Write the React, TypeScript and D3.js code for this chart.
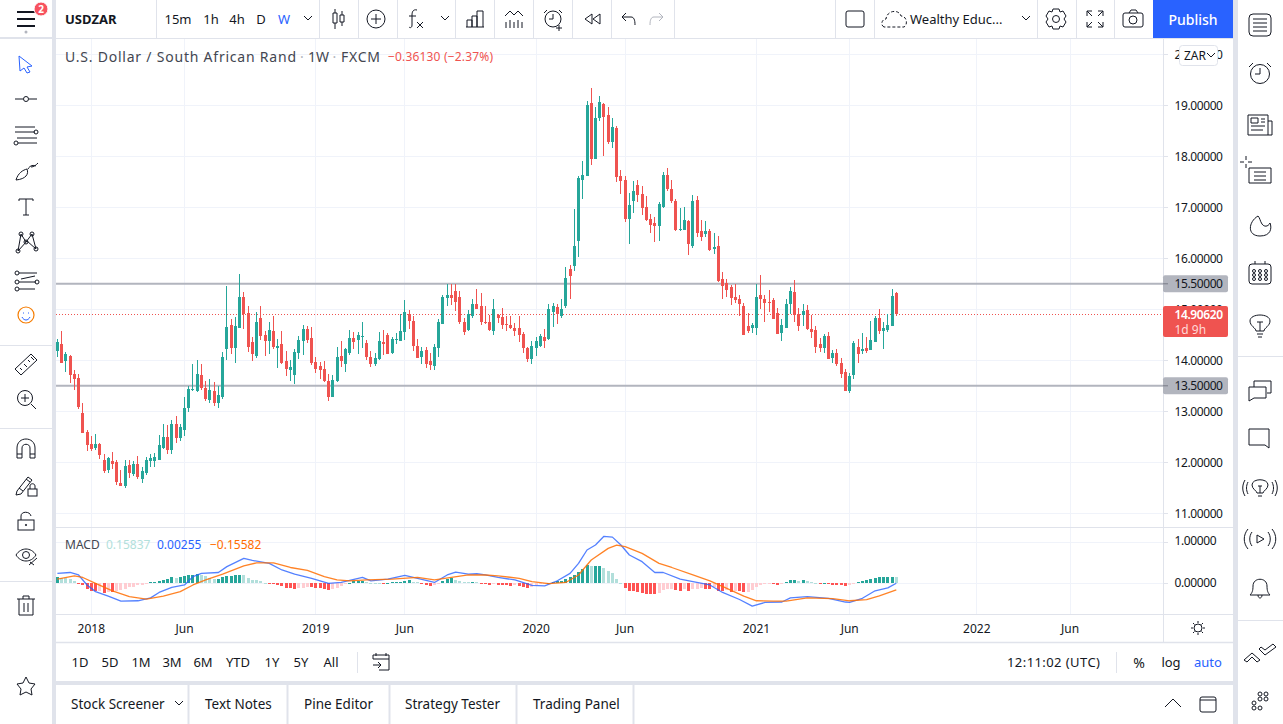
import React from "react";
import * as d3 from "d3";

const opens = [14.18,14.31,13.98,14.08,13.73,13.65,12.96,12.59,12.35,12.29,12.35,12.04,11.84,12.02,12.0,11.59,11.53,11.94,11.78,11.96,11.67,11.80,12.02,12.02,12.04,12.29,12.49,12.24,12.76,12.47,12.63,13.06,13.41,13.39,13.71,13.45,13.22,13.39,13.16,13.29,14.22,14.69,14.24,14.63,15.24,14.92,14.35,14.08,14.82,14.49,14.37,14.57,14.24,14.31,13.98,13.80,13.71,14.14,14.37,14.61,14.43,13.96,13.88,13.82,13.59,13.29,13.59,14.08,13.92,14.14,14.43,14.39,14.45,14.33,14.06,13.92,14.02,14.35,14.49,14.14,14.39,14.37,14.55,14.90,14.78,14.29,14.06,14.20,13.98,13.88,14.24,14.71,15.22,15.29,15.35,15.24,14.76,14.59,14.86,15.10,15.06,14.76,14.76,14.57,14.88,14.84,14.71,14.69,14.63,14.63,14.51,14.25,14.02,14.25,14.29,14.45,14.41,14.94,15.04,14.86,15.06,15.80,15.84,16.33,17.53,17.61,19.04,17.94,18.75,19.02,18.80,18.29,18.55,17.61,17.53,16.78,17.12,17.43,17.27,17.0,16.78,16.69,16.63,17.0,17.63,17.35,17.12,16.55,16.55,16.73,16.25,17.14,16.53,16.47,16.53,16.18,16.25,15.59,15.51,15.43,15.24,15.20,15.06,14.67,14.63,14.63,15.29,15.20,15.14,15.18,14.92,14.53,14.63,15.10,15.33,14.90,14.88,14.98,14.61,14.59,14.31,14.24,14.47,14.04,14.14,13.94,13.78,13.39,13.71,14.27,14.18,14.25,14.20,14.35,14.82,14.57,14.59,14.67,15.31];
const highs = [14.41,14.57,14.16,14.10,13.80,13.73,13.16,12.63,12.51,12.55,12.37,12.16,12.10,12.20,12.04,11.84,12.04,12.04,12.02,12.12,11.90,12.10,12.16,12.18,12.53,12.75,12.73,12.82,12.90,12.76,13.29,13.49,13.92,14.0,13.92,13.59,13.63,13.57,13.49,14.16,15.45,14.80,14.84,15.69,15.33,15.06,14.45,14.94,15.06,14.57,14.76,14.86,14.41,14.57,14.18,14.0,14.22,14.47,14.69,14.67,14.65,14.06,13.96,13.98,13.73,13.71,14.27,14.37,14.24,14.59,14.55,14.55,14.75,14.39,14.18,14.14,14.55,14.59,14.53,14.45,14.53,14.90,15.18,14.98,14.86,14.41,14.27,14.27,14.14,14.31,14.80,15.29,15.49,15.49,15.49,15.35,14.82,14.98,15.20,15.39,15.31,15.06,14.88,15.20,14.90,15.02,14.86,14.86,14.73,14.86,14.55,14.27,14.37,14.45,14.51,14.61,15.10,15.12,15.10,15.20,15.82,15.86,16.96,17.61,17.90,19.08,19.33,18.96,19.18,19.04,18.96,18.75,18.59,17.73,17.61,17.29,17.51,17.53,17.41,17.22,16.86,16.80,17.10,17.69,17.78,17.53,17.16,16.98,17.0,16.75,17.25,17.22,16.75,16.73,16.57,16.49,16.43,15.73,15.59,15.47,15.49,15.29,15.12,14.92,14.73,15.49,15.67,15.29,15.37,15.22,15.02,14.80,15.20,15.43,15.57,15.02,15.10,15.08,14.88,14.67,14.43,14.51,14.55,14.20,14.22,14.04,13.82,13.76,14.37,14.41,14.53,14.45,14.78,14.86,15.0,14.75,14.90,15.39,15.33];
const lows = [14.06,13.94,13.78,13.55,13.41,13.04,12.57,12.22,12.22,12.24,12.06,11.80,11.80,11.86,11.55,11.53,11.49,11.69,11.73,11.67,11.59,11.76,11.90,11.90,12.04,12.27,12.16,12.16,12.37,12.41,12.51,12.98,13.39,13.37,13.41,13.20,13.16,13.10,13.06,13.24,14.0,14.12,13.94,14.63,14.61,14.16,13.98,14.04,14.39,14.08,14.12,14.22,13.84,13.92,13.69,13.59,13.53,14.02,14.10,14.33,13.90,13.75,13.63,13.57,13.20,13.29,13.57,13.86,13.78,14.10,14.22,14.12,14.25,14.0,13.86,13.88,14.0,14.10,14.12,14.12,14.31,14.37,14.39,14.61,14.18,14.04,13.92,13.84,13.80,13.80,14.06,14.71,15.06,15.08,14.96,14.71,14.49,14.57,14.82,15.0,14.69,14.71,14.57,14.49,14.73,14.61,14.57,14.61,14.47,14.35,14.14,13.96,13.92,14.08,14.27,14.25,14.39,14.65,14.71,14.82,15.02,15.20,15.75,16.02,17.16,17.61,17.82,17.94,18.69,18.0,18.25,18.16,17.49,17.27,16.71,16.29,16.88,17.10,16.84,16.73,16.49,16.31,16.33,16.98,17.31,17.08,16.53,16.53,16.55,16.06,16.20,16.41,16.33,16.41,16.14,16.08,15.53,15.20,15.25,15.08,15.12,14.86,14.49,14.53,14.53,14.49,15.0,14.75,14.94,14.80,14.51,14.37,14.63,14.90,14.75,14.57,14.67,14.59,14.43,14.14,14.16,14.14,14.02,13.94,13.88,13.65,13.39,13.35,13.63,13.94,14.12,14.14,14.20,14.35,14.51,14.22,14.55,14.67,14.86];
const closes = [14.35,13.94,14.12,13.71,13.63,13.08,12.57,12.33,12.27,12.35,12.14,11.82,12.08,11.96,11.61,11.53,11.92,11.80,11.96,11.71,11.82,12.04,12.08,12.10,12.33,12.49,12.25,12.76,12.47,12.69,13.06,13.43,13.43,13.73,13.45,13.24,13.41,13.16,13.31,14.06,14.65,14.24,14.67,15.24,14.90,14.27,14.12,14.76,14.47,14.37,14.59,14.27,14.29,13.94,13.82,13.86,14.16,14.39,14.61,14.39,13.94,13.82,13.80,13.59,13.29,13.61,14.06,13.98,14.22,14.43,14.35,14.49,14.47,14.06,13.92,14.04,14.37,14.31,14.12,14.41,14.41,14.57,14.94,14.78,14.29,14.04,14.18,13.92,13.90,14.27,14.76,15.25,15.28,15.22,15.14,14.76,14.55,14.90,15.10,15.0,14.75,14.75,14.59,15.0,14.82,14.69,14.69,14.63,14.57,14.49,14.25,14.02,14.29,14.37,14.47,14.37,15.0,15.06,14.90,15.0,15.61,15.65,16.24,17.57,17.63,19.0,17.94,18.76,19.06,18.78,18.29,18.57,17.59,17.51,16.78,17.04,17.31,17.25,16.98,16.75,16.65,16.63,17.06,17.63,17.35,17.12,16.55,16.57,16.75,16.29,17.12,16.49,16.41,16.53,16.16,16.22,15.55,15.45,15.37,15.22,15.18,15.10,14.49,14.57,14.69,15.25,15.20,15.12,15.12,14.80,14.51,14.69,15.10,15.35,14.88,14.67,14.96,14.61,14.55,14.27,14.24,14.47,14.02,14.14,13.92,13.73,13.39,13.69,14.33,14.12,14.22,14.18,14.39,14.82,14.57,14.63,14.69,15.27,14.9062];

const histogram = [0.144,0.128,0.12,0.104,0.064,-0.024,-0.048,-0.144,-0.176,-0.192,-0.176,-0.224,-0.2,-0.2,-0.192,-0.16,-0.144,-0.096,-0.08,-0.048,-0.032,-0.024,0.024,0.04,0.064,0.088,0.096,0.144,0.136,0.144,0.176,0.192,0.2,0.224,0.2,0.176,0.128,0.104,0.104,0.144,0.176,0.184,0.192,0.2,0.192,0.128,0.08,0.072,0.048,0.016,-0.024,-0.024,-0.04,-0.064,-0.112,-0.12,-0.144,-0.12,-0.104,-0.08,-0.096,-0.112,-0.12,-0.136,-0.16,-0.144,-0.112,-0.064,-0.024,0.008,0.048,0.064,0.064,0.024,0.016,0.008,0,-0.016,0.016,0.024,0.032,0.04,0.064,0.08,0.032,0.024,-0.016,-0.032,-0.064,-0.048,-0.008,0.064,0.104,0.12,0.072,0.056,0.032,0.024,0.032,0.024,-0.016,-0.024,-0.032,-0.008,-0.032,-0.032,-0.048,-0.056,-0.048,-0.056,-0.08,-0.104,-0.096,-0.04,-0.024,-0.016,0.008,0.04,0.056,0.064,0.112,0.144,0.192,0.28,0.344,0.44,0.416,0.424,0.424,0.376,0.304,0.24,0.112,0.016,-0.112,-0.176,-0.192,-0.2,-0.24,-0.256,-0.256,-0.256,-0.224,-0.16,-0.144,-0.136,-0.16,-0.176,-0.144,-0.176,-0.144,-0.136,-0.12,-0.144,-0.144,-0.096,-0.176,-0.176,-0.16,-0.2,-0.176,-0.184,-0.208,-0.2,-0.16,-0.096,-0.048,-0.024,-0.008,-0.008,-0.032,-0.008,0.032,0.08,0.08,0.056,0.08,0.048,0.024,0.008,-0.008,0.008,-0.024,-0.032,-0.032,-0.04,-0.072,-0.04,-0.008,0.032,0.056,0.072,0.096,0.12,0.144,0.144,0.144,0.16,0.158];

const macdBars = [1,4,6,8,10,13,16,20,23,25,28,31,33,35,39,41,45,47,51,54,57,61,65,68,72,73,75,79,83,86,90,93,95,98,100,102,105,109,113,116,119,122,124,126,128,130,132,134,136,139,142,144,148,151,155,158,162,165,168,172,174,178,183,187,188,191,194,197,199];
const macdValues = [0.24,0.26,0.2,-0.04,-0.2,-0.31,-0.43,-0.42,-0.35,-0.22,-0.1,-0.04,0.16,0.24,0.26,0.4,0.6,0.55,0.48,0.32,0.22,0.12,0,0.02,0.12,0.14,0.06,0.1,0.19,0.12,0.02,0.2,0.27,0.22,0.23,0.2,0.14,0.08,-0.05,-0.06,0.06,0.24,0.48,0.8,0.92,1.13,1.11,0.92,0.68,0.52,0.26,0.26,0.1,0.04,-0.04,-0.22,-0.39,-0.55,-0.46,-0.45,-0.35,-0.32,-0.36,-0.45,-0.46,-0.36,-0.18,-0.11,0.00255];
const signalBars = [1,5,7,10,14,18,22,26,30,33,36,40,45,48,52,56,60,64,67,70,74,80,86,90,94,98,102,105,110,113,117,121,124,127,131,133,135,139,143,146,151,155,159,163,166,170,173,178,184,188,192,195,199];
const signalValues = [0.1,0.18,0.14,0,-0.18,-0.32,-0.38,-0.31,-0.2,-0.04,0.08,0.22,0.42,0.49,0.49,0.38,0.31,0.16,0.08,0.06,0.08,0.1,0.14,0.08,0.14,0.2,0.2,0.18,0.12,0.04,-0.01,0.02,0.2,0.56,0.84,0.92,0.88,0.72,0.48,0.38,0.2,0.06,-0.12,-0.31,-0.42,-0.43,-0.43,-0.35,-0.37,-0.42,-0.39,-0.3,-0.1558];

const priceTicks = [11,12,13,14,15,16,17,18,19,20];
const macdTicks = [0,1];
const timeTickBars = [9,31,62,83,114,135,166,188,218,240];
const timeTickLabels = ["2018","Jun","2019","Jun","2020","Jun","2021","Jun","2022","Jun"];
const levels = [15.5,13.5];
const lastPrice = 14.9062;

const intervals: [string,number,string][] = [["15m",178,"#131722"],["1h",211,"#131722"],["4h",237,"#131722"],["D",261,"#131722"],["W",284,"#2962FF"]];
const ranges: [string,number][] = [["1D",80],["5D",110],["1M",141],["3M",172],["6M",203],["YTD",238],["1Y",272],["5Y",301],["All",331]];
const tabs: [string,number][] = [["Stock Screener",71],["Text Notes",205],["Pine Editor",304],["Strategy Tester",405],["Trading Panel",533]];

const W = 1283, H = 724;
const FONT = "'Noto Sans', sans-serif";
const INK = "#131722";
const LEG = "#434651";
const UP = "#26A69A", DOWN = "#EF5350";
const GRID = "#F0F3FA";
const BORDER = "#E0E3EB";

const x = d3.scaleLinear().domain([1,199]).range([57.4,896.3]);
const y = d3.scaleLinear().domain([14,19]).range([360.3,105.3]);
const ym = d3.scaleLinear().domain([0,1]).range([583.3,541.7]);
const cx = (b:number)=>Math.round(x(b)-0.5);

const macdLine = d3.line<number>().x((_,i)=>x(macdBars[i])).y(d=>ym(d));
const signalLine = d3.line<number>().x((_,i)=>x(signalBars[i])).y(d=>ym(d));

function histColor(i:number){
  const v=histogram[i], p=i>0?histogram[i-1]:v;
  if(v>=0) return v>=p?"#26A69A":"#B2DFDB";
  return v<=p?"#FF5252":"#FFCDD2";
}

const T=(p:any)=>{const {children,...r}=p;return <text fontFamily={FONT} fontSize={13} fill={INK} dominantBaseline="central" {...r}>{children}</text>;};
const I=({at,children,c=INK}:{at:[number,number],children:any,c?:string})=><g transform={`translate(${at[0]},${at[1]})`} fill="none" stroke={c} strokeWidth={1}>{children}</g>;
const Chevron=({at}:{at:[number,number]})=><I at={at}><path d="M-4 -2 L0 2 L4 -2"/></I>;

export default function App(){
  return (
  <svg width={W} height={H} viewBox={`0 0 ${W} ${H}`} style={{position:"fixed",left:0,top:0,display:"block"}}>
    <rect width={W} height={H} fill={BORDER}/>
    <rect x={0} y={0} width={52} height={37} fill="#fff"/>
    <rect x={0} y={39} width={52} height={685} fill="#fff"/>
    <rect x={56} y={0} width={1177} height={38} fill="#fff"/>
    <rect x={56} y={39} width={1177} height={642} fill="#fff"/>
    <rect x={56} y={685} width={1177} height={39} fill="#fff"/>
    <rect x={1238} y={0} width={45} height={724} fill="#fff"/>

    {/* grid */}
    <g stroke={GRID}>
      {priceTicks.map(t=><line key={t} x1={56} x2={1163} y1={Math.round(y(t))+.5} y2={Math.round(y(t))+.5}/>)}
      {macdTicks.map(t=><line key={t} x1={56} x2={1163} y1={Math.round(ym(t))+.5} y2={Math.round(ym(t))+.5}/>)}
      {timeTickBars.map(b=><line key={b} x1={cx(b)+.5} x2={cx(b)+.5} y1={39} y2={614}/>)}
    </g>

    {/* levels */}
    {levels.map(l=><line key={l} x1={56} x2={1163} y1={y(l)} y2={y(l)} stroke="#B2B5BE" strokeWidth={2}/>)}
    <line x1={56} x2={1163} y1={314.5} y2={314.5} stroke={DOWN} strokeWidth={1} strokeDasharray="1 2"/>

    {/* candles */}
    <clipPath id="plot"><rect x={56} y={39} width={1107} height={575}/></clipPath>
    <g clipPath="url(#plot)">
      {closes.map((c,i)=>{
        const b=i+1, col=c>=opens[i]?UP:DOWN, px=cx(b);
        const top=Math.round(y(Math.max(opens[i],c))), bot=Math.round(y(Math.min(opens[i],c)));
        return <g key={b} fill={col}>
          <rect x={px} y={Math.round(y(highs[i]))} width={1} height={Math.max(1,Math.round(y(lows[i]))-Math.round(y(highs[i])))}/>
          <rect x={px-1} y={top} width={3} height={Math.max(1,bot-top)}/>
        </g>;
      })}
      {histogram.map((v,i)=>{
        const z=Math.round(ym(0)), t=Math.round(ym(v));
        return <rect key={i} x={cx(i+1)-1} y={Math.min(z,t)} width={3} height={Math.max(1,Math.abs(z-t))} fill={histColor(i)}/>;
      })}
      <path d={macdLine(macdValues)!} fill="none" stroke="#2962FF" strokeOpacity={0.8} strokeWidth={1.3} strokeLinejoin="round"/>
      <path d={signalLine(signalValues)!} fill="none" stroke="#FF6D00" strokeOpacity={0.85} strokeWidth={1.3} strokeLinejoin="round"/>
    </g>

    {/* panes borders */}
    <line x1={56} x2={1233} y1={527.5} y2={527.5} stroke={BORDER}/>
    <line x1={56} x2={1233} y1={614.5} y2={614.5} stroke={BORDER}/>
    <line x1={56} x2={1233} y1={642.5} y2={642.5} stroke={BORDER} strokeWidth={1.5}/>
    <line x1={1163.5} x2={1163.5} y1={39} y2={642} stroke={BORDER}/>

    {/* axis ticks */}
    <g fontFamily={FONT} fontSize={12}>
      {priceTicks.map(t=><g key={t}>
        <line x1={1164} x2={1168} y1={Math.round(y(t))+.5} y2={Math.round(y(t))+.5} stroke={BORDER}/>
        <T x={1174.5} y={y(t)} fontSize={12} letterSpacing={-0.4}>{t.toFixed(5)}</T>
      </g>)}
      {macdTicks.map(t=><g key={t}>
        <line x1={1164} x2={1168} y1={Math.round(ym(t))+.5} y2={Math.round(ym(t))+.5} stroke={BORDER}/>
        <T x={1174.5} y={ym(t)-1} fontSize={12} letterSpacing={-0.4}>{t.toFixed(5)}</T>
      </g>)}
      {timeTickBars.map((b,i)=><T key={b} x={x(b)} y={628} fontSize={12} textAnchor="middle">{timeTickLabels[i]}</T>)}
    </g>

    {/* price tags */}
    {levels.map(l=><g key={l}>
      <rect x={1163} y={y(l)-8.5} width={65} height={17} rx={2} fill="#B2B5BE"/>
      <line x1={1163} x2={1168} y1={y(l)} y2={y(l)} stroke="#787B86"/>
      <T x={1174.5} y={y(l)} fontSize={12} letterSpacing={-0.4}>{l.toFixed(5)}</T>
    </g>)}
    <rect x={1163} y={306} width={65} height={31} rx={2} fill={DOWN}/>
    <T x={1174.5} y={314.5} fontSize={12} fill="#fff" fontWeight={600} letterSpacing={-0.4}>{lastPrice.toFixed(5)}</T>
    <T x={1174.5} y={329} fontSize={12} fill="#FFD9D8">1d 9h</T>

    {/* legends */}
    <T x={65} y={56} fontSize={14} fill={LEG} textLength={231}>U.S. Dollar / South African Rand</T>
    <T x={300} y={56} fontSize={14} fill="#B2B5BE">·</T>
    <T x={308} y={56} fontSize={14} fill={LEG}>1W</T>
    <T x={332.5} y={56} fontSize={14} fill="#B2B5BE">·</T>
    <T x={341} y={56} fontSize={14} fill={LEG} textLength={39}>FXCM</T>
    <T x={388} y={56.5} fontSize={12} fill={DOWN} textLength={105}>−0.36130 (−2.37%)</T>
    <T x={65} y={544.5} fontSize={12} fill={LEG}>MACD</T>
    <T x={106} y={544.5} fontSize={12} fill="#B2DFDB">0.15837</T>
    <T x={157} y={544.5} fontSize={12} fill="#2962FF">0.00255</T>
    <T x={210} y={544.5} fontSize={12} fill="#FF6D00">−0.15582</T>

    {/* ZAR button */}
    <rect x={1179.5} y={45.5} width={38} height={20} rx={3} fill="#fff" stroke={BORDER}/>
    <T x={1184} y={55} fontSize={12}>ZAR</T>
    <Chevron at={[1211,55]}/>

    {/* top bar */}
    <g stroke={BORDER}>{[156,319,358,397,455,494,533,572,611,674,835,874,1037,1076,1114].map(d=><line key={d} x1={d+.5} x2={d+.5} y1={0} y2={38}/>)}</g>
    <I at={[26,19]} c="#131722"><path d="M-9 -7 H9 M-9 0 H9 M-9 7 H9" strokeWidth={2}/></I>
    <circle cx={41} cy={9} r={7} fill="#F7525F" stroke="#fff"/>
    <T x={41} y={9} fontSize={10} fill="#fff" textAnchor="middle" fontWeight={700}>2</T>
    <circle cx={26} cy={32} r={1.5} fill="#B2B5BE"/>
    <T x={65} y={19} fontSize={13} fontWeight={700}>USDZAR</T>
    {intervals.map(([t,xx,c])=><T key={t} x={xx} y={19} fontSize={13} fill={c} textAnchor="middle">{t}</T>)}
    <Chevron at={[308,18]}/>
    <I at={[338,19]}><path d="M-5 -6 h4 v10 h-4 z M-3 -10 v4 M-3 4 v6 M2 -4 h4 v7 h-4 z M4 -8 v4 M4 3 v4"/></I>
    <I at={[376,19]}><circle r={9}/><path d="M-5 0 H5 M0 -5 V5"/></I>
    <I at={[415,19]}><path d="M2 -9 C-2 -10 -3 -7 -3 -4 L-3 6 C-3 9 -5 9 -6 8 M-6 -3 H1 M2 3 L8 9 M8 3 L2 9"/></I>
    <Chevron at={[445,18]}/>
    <I at={[475,19]}><path d="M-9 8 H9 M-8 8 V1 H-3 V8 M-3 8 V-3 H2 V8 M2 8 V-8 H8 V8"/></I>
    <I at={[514,19]}><path d="M-9 -3 L-4 -8 L0 -4 L4 -8 L9 -3 M-8 9 V3 M-4 9 V1 M0 9 V3 M4 9 V1 M8 9 V3"/></I>
    <I at={[553,19]}><circle r={8}/><path d="M0 -5 V0 H-4 M-9 -6 L-6 -9 M9 -6 L6 -9 M6 6 V12 M3 9 H9"/></I>
    <I at={[592,19]}><path d="M0 -5 L-7 0 L0 5 Z M8 -5 L1 0 L8 5 Z"/></I>
    <I at={[628,19]}><path d="M-6 -2 L-2 -6 M-6 -2 L-2 2 M-6 -2 H3 C6 -2 7 1 7 6"/></I>
    <I at={[657,19]} c="#B2B5BE"><path d="M6 -2 L2 -6 M6 -2 L2 2 M6 -2 H-3 C-6 -2 -7 1 -7 6"/></I>
    <I at={[855,19]}><rect x={-9} y={-8} width={18} height={16} rx={2}/></I>
    <I at={[895,19]}><path d="M-11 8 C-15 6 -13 0 -9 0 C-8 -9 4 -10 6 -3 C12 -3 13 6 9 8 H-11" strokeDasharray="3 2"/></I>
    <T x={910} y={19} fontSize={13}>Wealthy Educ...</T>
    <Chevron at={[1026,18]}/>
    <I at={[1056,19]}><circle r={3.5}/><path d="M-3 -10 H3 L4 -7 L7 -8 L10 -3 L8 0 L10 3 L7 8 L4 7 L3 10 H-3 L-4 7 L-7 8 L-10 3 L-8 0 L-10 -3 L-7 -8 L-4 -7 Z"/></I>
    <I at={[1095,19]}><path d="M-8 -3 V-8 H-3 M-8 -8 L-3 -3 M8 -3 V-8 H3 M8 -8 L3 -3 M-8 3 V8 H-3 M-8 8 L-3 3 M8 3 V8 H3 M8 8 L3 3"/></I>
    <I at={[1133,19]}><rect x={-10} y={-6} width={20} height={14} rx={2}/><circle cy={1} r={4}/><path d="M-4 -6 L-2 -9 H3 L5 -6"/></I>
    <rect x={1153} y={0} width={80} height={38} fill="#2962FF"/>
    <T x={1193} y={19} fontSize={14} fill="#fff" textAnchor="middle" fontWeight={500}>Publish</T>

    {/* left toolbar */}
    <g stroke={BORDER}>
      <line x1={0} x2={52} y1={345.5} y2={345.5}/>
      <line x1={0} x2={52} y1={428.5} y2={428.5}/>
      <line x1={0} x2={52} y1={581.5} y2={581.5}/>
    </g>
    <I at={[25,64]} c="#2962FF"><path d="M-6 -8 L7 2 L2 3 L5 8 L2 9 L-1 4 L-5 7 Z"/></I>
    <I at={[26,99]}><path d="M-11 0 H-3 M3 0 H11"/><circle r={2.5}/></I>
    <I at={[26,135]}><path d="M-11 -8 H9 M-11 -3 H9 M-9 3 H11 M-8 8 H11"/><circle cx={10} cy={-3} r={2}/><circle cx={-10} cy={8} r={2}/></I>
    <I at={[26,172]}><path d="M-10 8 C-8 1 -3 -2 1 -3 C3 2 0 7 -10 8 M2 -3 C4 -7 8 -7 10 -6 M5 -5 C8 -5 10 -7 12 -9"/></I>
    <I at={[26,207]}><path d="M-7 -6 V-8 H7 V-6 M0 -8 V8 M-3 8 H3"/></I>
    <I at={[26,242]}><path d="M-8 9 L-5 -8 L0 0 L6 -8 L10 7 L1 -1 L-8 9"/><circle cx={-5} cy={-8} r={2}/><circle cx={6} cy={-8} r={2}/><circle cx={0} cy={0} r={2}/><circle cx={-8} cy={9} r={2}/><circle cx={10} cy={7} r={2}/></I>
    <I at={[26,281]}><path d="M-7 -8 H11 M-7 8 H9 M-7 1 H10 M-5 -2 L9 -5" /><circle cx={-9} cy={-8} r={2}/><circle cx={-9} cy={1} r={2}/><circle cx={-9} cy={8} r={2}/><circle cx={11} cy={1} r={2}/></I>
    <I at={[26,315]} c="#131722"><circle r={8} stroke="#F57C00" strokeWidth={1.2}/><path d="M-4 2 C-2 6 2 6 4 2 M-3 -2 h1 M2 -2 h1" stroke="#2962FF"/></I>
    <I at={[26,364]}><path d="M-11 5 L5 -10 L11 -4 L-5 11 Z M-6 4 L-4 6 M-2 0 L1 3 M2 -4 L4 -2 M5 -7 L8 -4"/></I>
    <I at={[26,399]}><circle cx={-1} cy={-1} r={7.5}/><path d="M-5 -1 H3 M-1 -5 V3 M5 5 L10 10"/></I>
    <I at={[26,449]}><path d="M-9 9 V-1 C-9 -13 9 -13 9 -1 V9 H4 V-1 C4 -6 -4 -6 -4 -1 V9 Z M-9 5 H-4 M4 5 H9"/></I>
    <I at={[26,485]}><path d="M-9 6 L2 -8 L6 -5 L-5 9 L-10 10 Z M-7 3 L-3 6 M0 -6 L4 -3"/><rect x={2} y={4} width={9} height={7}/><path d="M4 4 V1 C4 -2 9 -2 9 1 V4"/></I>
    <I at={[26,521]}><rect x={-8} y={-1} width={16} height={10}/><path d="M-5 -1 V-5 C-5 -10 4 -10 5 -5"/><circle cy={4} r={0.7}/></I>
    <I at={[26,556]}><path d="M-10 -1 C-5 -9 5 -9 10 -1 C5 7 -5 7 -10 -1 Z"/><circle cy={-1} r={3.5}/><path d="M3 9 L11 2 M4 6 L8 9"/></I>
    <I at={[26,606]}><path d="M-9 -7 H9 M-7 -7 V9 H7 V-7 M-3 -7 V-10 H3 V-7 M-2 -3 V6 M2 -3 V6"/></I>
    <I at={[26,686]}><path d="M0 -9 L3 -3 L9 -2 L5 3 L6 9 L0 6 L-6 9 L-5 3 L-9 -2 L-3 -3 Z"/></I>

    {/* right toolbar */}
    <g stroke={BORDER}>
      <line x1={1238} x2={1283} y1={356.5} y2={356.5}/>
      <line x1={1238} x2={1283} y1={620.5} y2={620.5}/>
    </g>
    <I at={[1260,25]}><rect x={-11} y={-11} width={22} height={22} rx={4}/><path d="M-7 -6 H7 M-7 -2 H7 M-7 2 H7 M-7 6 H7"/></I>
    <I at={[1260,74]}><circle r={9.5}/><path d="M0 -6 V0 H-5 M-11 -7 L-7 -11 M11 -7 L7 -11"/></I>
    <I at={[1260,125]}><path d="M-12 -10 H8 V10 H-12 Z M8 -4 H12 V10 H8 M-9 -7 H-2 V-2 H-9 Z M1 -6 H5 M1 -3 H5 M-9 1 H5 M-9 5 H3"/></I>
    <I at={[1260,173]}><path d="M-11 -5 V10 H11 V-5 Z M-6 -1 H6 M-6 3 H6 M-6 7 H6 M-20 -11 H-16 M-12 -11 H-8 M-14 -17 V-13 M-14 -9 V-5"/></I>
    <I at={[1260,226]}><path d="M-2 -10 C-12 -4 -13 10 0 10 C11 10 12 2 10 -3 C8 1 4 1 2 -2 C0 -5 0 -8 -2 -10 Z"/></I>
    <I at={[1260,273]}><rect x={-11} y={-9} width={22} height={20} rx={3}/><path d="M-5 -12 V-9 M5 -12 V-9"/>{[-6,0,6].map(a=>[-3,1,5].map(b=><circle key={a+"_"+b} cx={a} cy={b+1} r={1.5}/>))}</I>
    <I at={[1260,325]}><path d="M-4 6 C-4 3 -10 1 -10 -4 C-10 -12 10 -12 10 -4 C10 1 4 3 4 6 Z M-3 9 H3 M-2 12 H2 M-3 -3 H3 M0 -3 V6"/></I>
    <I at={[1260,390]}><path d="M-6 -3 V-9 H11 V3 L7 3 M-11 -3 H6 V8 H-6 L-11 11 Z"/></I>
    <I at={[1260,438]}><path d="M-11 -9 H9 V10 L5 7 H-11 Z"/></I>
    <I at={[1260,488]}><path d="M-3 5 C-3 3 -8 1 -8 -3 C-8 -10 8 -10 8 -3 C8 1 3 3 3 5 Z M-2 8 H2 M-2 -2 H2 M0 -2 V5 M-12 -6 C-14 -2 -14 2 -12 6 M-15 -8 C-18 -3 -18 3 -15 8 M12 -6 C14 -2 14 2 12 6 M15 -8 C18 -3 18 3 15 8"/></I>
    <I at={[1260,539]}><path d="M-3 -4 L4 0 L-3 4 Z M-8 -7 C-11 -3 -11 3 -8 7 M-12 -10 C-17 -4 -17 4 -12 10 M8 -7 C11 -3 11 3 8 7 M12 -10 C17 -4 17 4 12 10"/></I>
    <I at={[1260,588]}><path d="M-10 7 H10 C8 5 7 3 7 -2 C7 -11 -7 -11 -7 -2 C-7 3 -8 5 -10 7 Z M-2 7 C-2 11 2 11 2 7"/></I>
    <I at={[1260,653]}><path d="M-16 7 L-8 0 L0 7 L-3 9 L-8 4 L-13 9 Z M-1 -4 L5 2 L16 -6 L13 -9 L5 -3 L1 -6 Z"/></I>
    <I at={[1260,700]}><circle cx={-6} cy={3} r={2}/><circle cx={0} cy={-1} r={2}/><circle cx={6} cy={-1} r={2}/><circle cx={0} cy={-6} r={2}/><circle cx={6} cy={-6} r={2}/><circle cx={-6} cy={8} r={2}/><circle cx={0} cy={8} r={2}/></I>

    {/* range bar */}
    {ranges.map(([t,xx])=><T key={t} x={xx} y={662} fontSize={13} textAnchor="middle">{t}</T>)}
    <line x1={357.5} x2={357.5} y1={652} y2={673} stroke={BORDER}/>
    <I at={[381,662]}><path d="M-8 -3 H8 V8 H-2 M-8 -3 V-7 H8 V-3 M-5 -9 V-6 M5 -9 V-6 M-8 3 H0 M-3 0 L0 3 L-3 6"/></I>
    <T x={1007} y={662} fontSize={13} textLength={93}>12:11:02 (UTC)</T>
    <line x1={1116.5} x2={1116.5} y1={652} y2={673} stroke={BORDER}/>
    <T x={1139} y={662} fontSize={14} textAnchor="middle">%</T>
    <T x={1171} y={662} fontSize={13} textAnchor="middle">log</T>
    <T x={1208} y={662} fontSize={13} textAnchor="middle" fill="#2962FF">auto</T>
    <I at={[1198,628]}><circle r={4}/><path d="M0 -7 V-5 M0 5 V7 M-7 0 H-5 M5 0 H7 M-5 -5 L-3.5 -3.5 M5 -5 L3.5 -3.5 M-5 5 L-3.5 3.5 M5 5 L3.5 3.5"/></I>

    {/* tabs */}
    <g stroke={BORDER}>{[188,287,389,516,633].map(d=><line key={d} x1={d+.5} x2={d+.5} y1={685} y2={724} strokeWidth={2}/>)}</g>
    {tabs.map(([t,xx])=><T key={t} x={xx} y={704} fontSize={13.5}>{t}</T>)}
    <Chevron at={[179,703]}/>
    <I at={[1173,703]}><path d="M-8 4 L0 -4 L8 4"/></I>
    <I at={[1208,704]}><rect x={-8} y={-7} width={16} height={15} rx={2}/><path d="M-8 -4 H8"/></I>
  </svg>
  );
}
